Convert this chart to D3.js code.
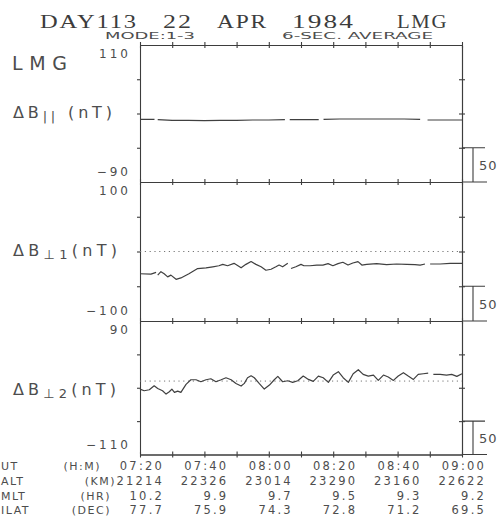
<!DOCTYPE html>
<html>
<head>
<meta charset="utf-8">
<script src="https://cdn.jsdelivr.net/npm/d3@7"></script>
<style>
  body { margin: 0; background: #fff; }
  svg { display: block; }
  .plot-text { font-family: 'DejaVu Sans', sans-serif; fill: #4d4d4d; }
  .title-text { font-family: 'Liberation Serif', serif; fill: #3c3c3c; }
  .axis path, .axis line { stroke: #3d3d3d; stroke-width: 1.1; fill: none; }
  .trace { fill: none; stroke: #404040; stroke-width: 1.2; stroke-linejoin: round; }
  .zero-line { stroke: #777; stroke-width: 1; stroke-dasharray: 1.2 3.6; }
  .scale-bar { stroke: #3d3d3d; stroke-width: 1.1; fill: none; }
</style>
</head>
<body>
<svg id="svg-chart" width="499" height="517"></svg>
<script>
//////////////////////////////////////////////////////////////////////////////////////////
// Data (minutes after 07:20 UT, nT)
//////////////////////////////////////////////////////////////////////////////////////////
var panel_ranges = [[110, -90], [100, -100], [90, -110]]

var b_par_time = [0, 4.5, 5.0, 5.5, 10, 15, 20, 25, 30, 35, 40, 45, 45.9, 46.5, 52, 55.5,
  56.3, 57, 62, 67, 72, 77, 82, 87, 88.3, 89.3, 95, 100]
var b_par_value = [1.5, 1.5, null, 1, 0, 0, -0.5, 0, 0, 0.5, 0.5, 1, null, 1, 1, 1,
  null, 1.5, 2, 2, 2, 2, 2, 1.5, null, 0.5, 0.5, 0.5]

var b_perp1_time = [0, 3.4, 5.0, 5.3, 5.5, 6.5, 7.5, 8.6, 9.6, 11.2, 12.7, 15.2, 17.9, 20.5,
  22.6, 24.5, 25.7, 27.2, 29.2, 31.4, 32.9, 34.5, 36.0, 37.6, 39.1, 40.7, 42.2, 43.2, 44.3,
  45.9, 46.4, 46.9, 48.4, 50.0, 50.9, 52.8, 54.9, 56.8, 58.4, 59.9, 61.5, 63.0, 64.6, 66.1,
  67.7, 68.9, 70.4, 73.5, 76.6, 79.7, 82.8, 85.4, 87.0, 88.5, 89.3, 90.1, 93.2, 96.3, 99.4, 100]
var b_perp1_value = [-32, -32.5, -30, null, -34, -29, -32, -36.5, -34, -40, -38, -32, -24.5, -23.5,
  -22, -20.5, -18.5, -20.5, -17, -23.5, -18.5, -14.5, -18.5, -22, -27, -25.5, -22, -19.5, -22,
  -17, null, -24.5, -22, -18.5, -20.5, -20.5, -19.5, -19.5, -17.5, -20.5, -17.5, -15.5, -19.5, -16.5,
  -14.5, -19.5, -18.5, -17.5, -19, -18, -18.5, -19, -19.5, -18, null, -18, -18, -17, -17, -17]

var b_perp2_time = [0, 1.3, 2.9, 4.4, 5.5, 7.0, 8.1, 9.1, 9.9, 10.7, 11.7, 12.7, 14.3, 15.8,
  17.4, 18.9, 20.5, 22.0, 23.6, 25.2, 26.7, 28.3, 29.8, 31.4, 32.4, 33.4, 34.5, 35.5, 37.0,
  38.6, 40.2, 41.7, 42.8, 44.3, 45.9, 47.4, 49.0, 50.7, 52.3, 53.8, 55.4, 56.9, 58.5, 60.0,
  61.6, 63.1, 64.7, 66.2, 67.8, 69.3, 70.9, 72.5, 74.0, 75.6, 77.1, 78.7, 80.2, 81.8, 83.3,
  84.9, 86.4, 88.0, 89.5, 90.3, 91.1, 93.2, 95.2, 96.8, 98.4, 100]
var b_perp2_value = [-12, -14.5, -13, -7, -11, -14.5, -19.5, -16, -12, -17, -15, -17, -5, 2,
  2, -1, 2, 3.5, -1, 2, 5, 2, -3.5, -7.5, -3.5, 5, 8, 5, -3.5,
  -12, -6, 2, 7, -1, 0.5, -2, 0.5, 7.5, 2.5, -0.5, 7.5, 5, -2, 9,
  14, 5, -2, 11, 17, 10, 7.5, 9, 1, 9, 6, 1, 7.5, 12.5, 7.5,
  2.5, 10, 11, 12, null, 10, 10, 9, 10, 7, 11]

var label_minutes = [0, 20, 40, 60, 80, 100]
var ut_labels = ['07:20', '07:40', '08:00', '08:20', '08:40', '09:00']
var alt_labels = ['21214', '22326', '23014', '23290', '23160', '22622']
var mlt_labels = ['10.2', '9.9', '9.7', '9.5', '9.3', '9.2']
var ilat_labels = ['77.7', '75.9', '74.3', '72.8', '71.2', '69.5']
var scale_bar_nt = 50

//////////////////////////////////////////////////////////////////////////////////////////
// Layout
//////////////////////////////////////////////////////////////////////////////////////////
var layout = {
  'left': 140,
  'right': 462,
  'tops': [45, 182, 321],
  'bottoms': [182, 321, 454.5],
  'tick': 3,
  'bar-x': 473,
  'bar-cap-l': 463,
  'bar-cap-r': 485,
  'bar-base-r': 487
}

var svg = d3.select('#svg-chart')
var x = d3.scaleLinear().domain([0, 100]).range([layout['left'], layout['right']])

var panels = [
  { time: b_par_time, value: b_par_value, zero: false, label: ['ΔB', '||', ' (nT)'], label_y: 118, label_w: 99 },
  { time: b_perp1_time, value: b_perp1_value, zero: true, label: ['ΔB', '⊥1', '(nT)'], label_y: 256, label_w: 104 },
  { time: b_perp2_time, value: b_perp2_value, zero: true, label: ['ΔB', '⊥2', '(nT)'], label_y: 395, label_w: 103 }
]

draw_title()
panels.forEach(function(p, i) { draw_panel(p, i) })
draw_footer()

//////////////////////////////////////////////////////////////////////////////////////////
// Title
//////////////////////////////////////////////////////////////////////////////////////////
function draw_title() {
  var words = [['DAY113', 40, 98], ['22', 163, 30], ['APR', 217, 51], ['1984', 292, 63], ['LMG', 397, 51]]
  svg.selectAll('.title-word')
    .data(words)
    .enter()
    .append('text')
    .attr('class', 'title-text title-word')
    .attr('x', function(d) { return d[1] })
    .attr('y', 27.5)
    .attr('font-size', 19.5)
    .attr('letter-spacing', 1.5)
    .attr('textLength', function(d) { return d[2] })
    .attr('lengthAdjust', 'spacingAndGlyphs')
    .text(function(d) { return d[0] })

  svg.append('text')
    .attr('class', 'plot-text')
    .attr('x', 105).attr('y', 38.5)
    .attr('font-size', 9)
    .attr('textLength', 90).attr('lengthAdjust', 'spacingAndGlyphs')
    .text('MODE:1-3')

  svg.append('text')
    .attr('class', 'plot-text')
    .attr('x', 282).attr('y', 38.5)
    .attr('font-size', 9)
    .attr('textLength', 151).attr('lengthAdjust', 'spacingAndGlyphs')
    .text('6-SEC. AVERAGE')

  svg.append('text')
    .attr('class', 'plot-text')
    .attr('x', 12).attr('y', 70)
    .attr('font-size', 19)
    .attr('fill', '#5a5a5a')
    .attr('textLength', 55).attr('lengthAdjust', 'spacing')
    .text('LMG')
}

//////////////////////////////////////////////////////////////////////////////////////////
// Panels
//////////////////////////////////////////////////////////////////////////////////////////
function draw_panel(p, i) {
  var top = layout['tops'][i]
  var bottom = layout['bottoms'][i]
  var range = panel_ranges[i]
  var y = d3.scaleLinear().domain(range).range([top, bottom])
  var inner_ticks = [1, 2, 3].map(function(k) { return range[0] - k * scale_bar_nt })
  var g = svg.append('g').attr('id', 'g-panel-' + i)

  // horizontal lines with crossing ticks
  var h_lines = i == 0 ? [top, bottom] : [bottom]
  h_lines.forEach(function(yy) {
    g.append('g').attr('class', 'axis')
      .attr('transform', 'translate(0,' + yy + ')')
      .call(d3.axisBottom(x).ticks(10).tickSize(layout['tick']).tickSizeOuter(0).tickFormat(''))
    g.append('g').attr('class', 'axis')
      .attr('transform', 'translate(0,' + yy + ')')
      .call(d3.axisTop(x).ticks(10).tickSize(layout['tick']).tickSizeOuter(0).tickFormat(''))
  })

  // left and right axes
  g.append('g').attr('class', 'axis')
    .attr('transform', 'translate(' + layout['left'] + ',0)')
    .call(d3.axisLeft(y).tickValues(inner_ticks).tickSize(layout['tick']).tickSizeOuter(0).tickFormat(''))
  g.append('g').attr('class', 'axis')
    .attr('transform', 'translate(' + layout['right'] + ',0)')
    .call(d3.axisRight(y).tickValues(inner_ticks).tickSize(layout['tick']).tickSizeOuter(0).tickFormat(''))
  g.append('g').attr('class', 'axis')
    .attr('transform', 'translate(' + layout['right'] + ',0)')
    .call(d3.axisLeft(y).tickValues(inner_ticks).tickSize(layout['tick']).tickSizeOuter(0).tickFormat(''))

  // limit labels
  g.append('text')
    .attr('class', 'plot-text')
    .attr('x', 131).attr('y', y(range[0]) + 13)
    .attr('font-size', 12).attr('letter-spacing', 3)
    .attr('text-anchor', 'end')
    .text(d3.format('d')(range[0]).replace('-', '−'))
  g.append('text')
    .attr('class', 'plot-text')
    .attr('x', 131).attr('y', y(range[1]) - 6)
    .attr('font-size', 12).attr('letter-spacing', 3)
    .attr('text-anchor', 'end')
    .text(d3.format('d')(range[1]).replace('-', '−'))

  // panel label
  var label = g.append('text')
    .attr('class', 'plot-text')
    .attr('x', 13).attr('y', p.label_y)
    .attr('font-size', 16)
    .attr('textLength', p.label_w).attr('lengthAdjust', 'spacing')
  label.append('tspan').text(p.label[0])
  label.append('tspan').attr('dy', 3).attr('font-size', 13).text(p.label[1])
  label.append('tspan').attr('dy', -3).text(p.label[2])

  // zero reference
  if (p.zero) {
    g.append('line')
      .attr('class', 'zero-line')
      .attr('x1', x(0)).attr('x2', x(100))
      .attr('y1', y(0)).attr('y2', y(0))
  }

  // trace
  var pts = p.time.map(function(t, k) { return { t: t, v: p.value[k] } })
  var line = d3.line()
    .defined(function(d) { return d.v !== null })
    .x(function(d) { return x(d.t) })
    .y(function(d) { return y(d.v) })
  g.append('path')
    .datum(pts)
    .attr('class', 'trace')
    .attr('d', line)

  // 50 nT scale bar
  var bar_top = y(range[1] + scale_bar_nt)
  var bar_bottom = y(range[1])
  g.append('path')
    .attr('class', 'scale-bar')
    .attr('d', 'M' + layout['bar-cap-l'] + ',' + bar_top + 'H' + layout['bar-cap-r'] +
      'M' + layout['bar-x'] + ',' + bar_top + 'V' + bar_bottom +
      'M' + layout['right'] + ',' + bar_bottom + 'H' + layout['bar-base-r'])
  g.append('text')
    .attr('class', 'plot-text')
    .attr('x', 479).attr('y', (bar_top + bar_bottom) / 2 + 5)
    .attr('font-size', 13).attr('letter-spacing', 1)
    .text(scale_bar_nt)
}

//////////////////////////////////////////////////////////////////////////////////////////
// Footer rows
//////////////////////////////////////////////////////////////////////////////////////////
function draw_footer() {
  var rows = [
    { name: 'UT', unit: '(H:M)', unit_x: 101, labels: ut_labels, y: 470 },
    { name: 'ALT', unit: '(KM)', unit_x: 116, labels: alt_labels, y: 485 },
    { name: 'MLT', unit: '(HR)', unit_x: 111, labels: mlt_labels, y: 499.5 },
    { name: 'ILAT', unit: '(DEC)', unit_x: 111, labels: ilat_labels, y: 514 }
  ]
  var g = svg.append('g').attr('id', 'g-footer')

  rows.forEach(function(r) {
    g.append('text')
      .attr('class', 'plot-text')
      .attr('x', 1).attr('y', r.y)
      .attr('font-size', 11).attr('letter-spacing', 1.5)
      .text(r.name)
    g.append('text')
      .attr('class', 'plot-text')
      .attr('x', r.unit_x).attr('y', r.y)
      .attr('font-size', 11).attr('letter-spacing', 1.5)
      .attr('text-anchor', 'end')
      .text(r.unit)
    g.selectAll('.row-' + r.name)
      .data(r.labels)
      .enter()
      .append('text')
      .attr('class', 'plot-text row-' + r.name)
      .attr('x', function(d, k) { return x(label_minutes[k]) + 24 })
      .attr('y', r.y)
      .attr('font-size', 11.5).attr('letter-spacing', 2.2)
      .attr('text-anchor', 'end')
      .text(function(d) { return d })
  })
}
</script>
</body>
</html>
